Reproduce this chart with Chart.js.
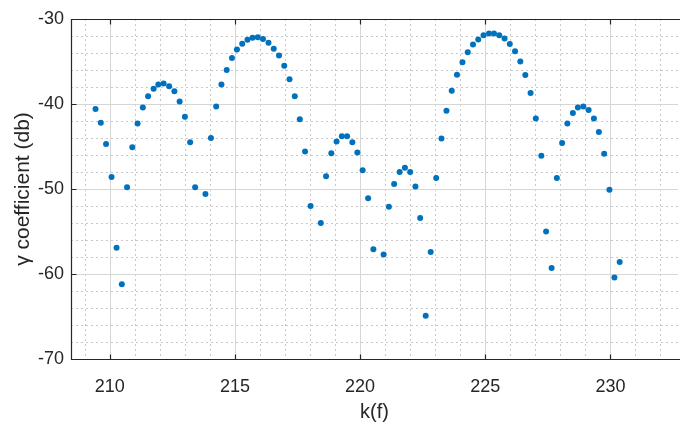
<!DOCTYPE html>
<html>
<head>
<meta charset="utf-8">
<script src="https://cdn.jsdelivr.net/npm/chart.js@4/dist/chart.umd.min.js"></script>
<style>
  html, body { margin: 0; padding: 0; background: #ffffff; }
  #wrap { width: 681px; height: 426px; }
</style>
</head>
<body>
<div id="wrap"><canvas id="c" width="681" height="426"></canvas></div>
<script>
// Measured samples: k(f) and the corresponding gamma coefficient in dB
const kValues = [
  209.43, 209.64, 209.85, 210.07, 210.27, 210.48, 210.69, 210.90, 211.11, 211.32,
  211.53, 211.75, 211.94, 212.15, 212.37, 212.58, 212.79, 213.00, 213.21, 213.41,
  213.82, 214.04, 214.25, 214.46, 214.67, 214.88, 215.08, 215.29, 215.50, 215.70,
  215.91, 216.12, 216.34, 216.55, 216.76, 216.97, 217.18, 217.39, 217.59, 217.80,
  218.02, 218.43, 218.64, 218.85, 219.06, 219.27, 219.48, 219.69, 219.89, 220.10,
  220.32, 220.53, 220.94, 221.15, 221.36, 221.58, 221.79, 222.00, 222.21, 222.40,
  222.62, 222.82, 223.04, 223.25, 223.45, 223.66, 223.87, 224.09, 224.30, 224.51,
  224.72, 224.93, 225.15, 225.35, 225.56, 225.77, 225.98, 226.19, 226.40, 226.60,
  226.81, 227.02, 227.24, 227.43, 227.65, 227.86, 228.07, 228.28, 228.50, 228.70,
  228.92, 229.13, 229.34, 229.54, 229.75, 229.96, 230.16, 230.37
];
const gammaDb = [
  -40.6, -42.2, -44.7, -48.6, -56.9, -61.2, -49.8, -45.1, -42.3, -40.4,
  -39.1, -38.2, -37.7, -37.6, -37.9, -38.5, -39.7, -41.5, -44.5, -49.8,
  -50.6, -44.0, -40.3, -37.7, -36.0, -34.6, -33.6, -32.9, -32.45, -32.2,
  -32.15, -32.35, -32.8, -33.5, -34.3, -35.5, -37.1, -39.1, -41.8, -45.6,
  -52.0, -54.0, -48.5, -45.8, -44.4, -43.8, -43.8, -44.5, -45.7, -47.8,
  -51.1, -57.1, -57.7, -52.1, -49.4, -48.0, -47.5, -48.0, -49.7, -53.4,
  -64.9, -57.4, -48.7, -44.05, -40.8, -38.45, -36.55, -35.1, -33.9, -33.0,
  -32.4, -31.9, -31.7, -31.7, -31.9, -32.3, -32.95, -33.8, -35.0, -36.6,
  -38.7, -41.7, -46.1, -55.0, -59.3, -48.7, -44.6, -42.3, -41.05, -40.4,
  -40.3, -40.7, -41.7, -43.3, -45.85, -50.1, -60.4, -58.6
];
const xTickValues = [210, 215, 220, 225, 230];
const yTickValues = [-70, -60, -50, -40, -30];
const xLabel = 'k(f)';
const yLabel = 'γ coefficient (db)';

const AXIS_COLOR = '#262626';
const MAJOR_GRID = '#d6d6d6';
const MINOR_GRID = '#c8c8c8';
const MARKER = '#0072BD';
const FONT_FAMILY = '"Liberation Sans", Arial, Helvetica, sans-serif';

// Grid (major + dotted minor) behind the markers, box and inward ticks on top
const matlabAxes = {
  id: 'matlabAxes',
  beforeDatasetsDraw(chart) {
    const { ctx, chartArea: a, scales: { x, y } } = chart;
    ctx.save();
    ctx.beginPath();
    ctx.rect(a.left, a.top, a.right - a.left, a.bottom - a.top);
    ctx.clip();
    // minor grid
    ctx.strokeStyle = MINOR_GRID;
    ctx.lineWidth = 1;
    ctx.setLineDash([2, 3]);
    ctx.beginPath();
    for (let v = Math.ceil(x.min); v <= x.max; v += 1) {
      if (xTickValues.includes(v)) continue;
      const px = Math.round(x.getPixelForValue(v)) + 0.5;
      ctx.moveTo(px, a.top); ctx.lineTo(px, a.bottom);
    }
    for (let v = y.min + 2; v < y.max; v += 2) {
      if (yTickValues.includes(v)) continue;
      const py = Math.round(y.getPixelForValue(v)) + 0.5;
      ctx.moveTo(a.left, py); ctx.lineTo(a.right, py);
    }
    ctx.stroke();
    // major grid
    ctx.setLineDash([]);
    ctx.strokeStyle = MAJOR_GRID;
    ctx.beginPath();
    xTickValues.forEach(v => {
      const px = Math.round(x.getPixelForValue(v)) + 0.5;
      ctx.moveTo(px, a.top); ctx.lineTo(px, a.bottom);
    });
    yTickValues.forEach(v => {
      if (v === y.min || v === y.max) return;
      const py = Math.round(y.getPixelForValue(v)) + 0.5;
      ctx.moveTo(a.left, py); ctx.lineTo(a.right, py);
    });
    ctx.stroke();
    ctx.restore();
  },
  afterDatasetsDraw(chart) {
    const { ctx, chartArea: a, scales: { x, y } } = chart;
    const L = Math.round(a.left) + 0.5, T = Math.round(a.top) + 0.5, B = Math.round(a.bottom) + 0.5;
    ctx.save();
    ctx.strokeStyle = AXIS_COLOR;
    ctx.lineWidth = 1.2;
    ctx.beginPath();
    ctx.moveTo(a.right + 2, T); ctx.lineTo(L, T); ctx.lineTo(L, B); ctx.lineTo(a.right + 2, B);
    const tl = 5;
    xTickValues.forEach(v => {
      const px = Math.round(x.getPixelForValue(v)) + 0.5;
      ctx.moveTo(px, B); ctx.lineTo(px, B - tl);
      ctx.moveTo(px, T); ctx.lineTo(px, T + tl);
    });
    yTickValues.forEach(v => {
      const py = Math.round(y.getPixelForValue(v)) + 0.5;
      ctx.moveTo(L, py); ctx.lineTo(L + tl, py);
    });
    ctx.stroke();
    ctx.restore();
  }
};

const points = kValues.map((k, i) => ({ x: k, y: gammaDb[i] }));

new Chart(document.getElementById('c'), {
  type: 'scatter',
  data: {
    datasets: [{
      data: points,
      backgroundColor: MARKER,
      borderColor: MARKER,
      borderWidth: 0,
      pointRadius: 3,
      pointHoverRadius: 3
    }]
  },
  options: {
    responsive: false,
    animation: false,
    devicePixelRatio: 1,
    layout: { padding: { top: 19, right: 0, left: 0, bottom: 0 } },
    plugins: { legend: { display: false }, tooltip: { enabled: false } },
    scales: {
      x: {
        type: 'linear',
        min: 208.45,
        max: 232.7,
        afterBuildTicks: s => { s.ticks = xTickValues.map(v => ({ value: v })); },
        afterFit: s => { s.height = 67; },
        grid: { display: false, drawTicks: false },
        border: { display: false },
        ticks: { color: AXIS_COLOR, font: { family: FONT_FAMILY, size: 18 }, padding: 17, maxRotation: 0 },
        title: { display: true, text: xLabel, color: AXIS_COLOR, font: { family: FONT_FAMILY, size: 20 }, padding: { top: 0, bottom: 2 } }
      },
      y: {
        type: 'linear',
        min: -70,
        max: -30,
        afterBuildTicks: s => { s.ticks = yTickValues.map(v => ({ value: v })); },
        afterFit: s => { s.width = 71; },
        grid: { display: false, drawTicks: false },
        border: { display: false },
        ticks: { color: AXIS_COLOR, font: { family: FONT_FAMILY, size: 18 }, padding: 7 },
        title: { display: true, text: yLabel, color: AXIS_COLOR, font: { family: FONT_FAMILY, size: 21 }, padding: { top: 11, bottom: 0 } }
      }
    }
  },
  plugins: [matlabAxes]
});
</script>
</body>
</html>
